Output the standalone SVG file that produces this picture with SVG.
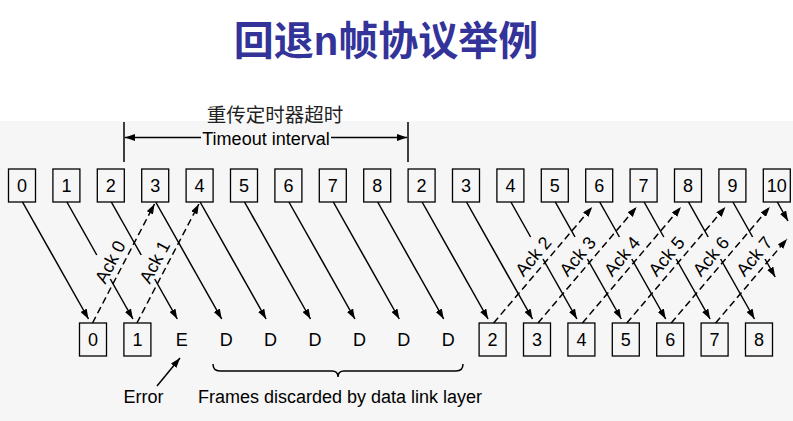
<svg xmlns="http://www.w3.org/2000/svg" width="793" height="421" viewBox="0 0 793 421">
<style>
.box{fill:none;stroke:#000;stroke-width:1.3}
.lbl{font-family:"Liberation Sans",Arial,sans-serif;font-size:18px;fill:#000;text-anchor:middle}
.ln{stroke:#000;stroke-width:1.5;fill:none}
.arr{marker-end:url(#ah)}
.dash{stroke:#000;stroke-width:1.5;fill:none;stroke-dasharray:7 4;marker-end:url(#ah)}
.title{font-family:"Liberation Sans","Noto Sans CJK SC",sans-serif;font-size:40px;font-weight:bold;fill:#333399;text-anchor:middle}
.cjk{font-family:"Noto Sans CJK SC",sans-serif;font-size:19.5px;fill:#222;text-anchor:middle}
</style>
<defs>
<marker id="ah" markerUnits="userSpaceOnUse" markerWidth="10" markerHeight="7" refX="10" refY="3.5" orient="auto">
<path d="M0,0 L10,3.5 L0,7 z" fill="#000"/>
</marker>
</defs>
<rect x="0" y="0" width="793" height="421" fill="#fff"/>
<rect x="0" y="121" width="793" height="300" fill="#f6f6f6"/>
<text id="title" class="title" x="386" y="55">回退n帧协议举例</text>

<g id="timeout">
<text class="cjk" x="275" y="121.5">重传定时器超时</text>
<line class="ln" x1="124" y1="122" x2="124" y2="162"/>
<line class="ln" x1="408" y1="122" x2="408" y2="162"/>
<line class="ln arr" x1="201" y1="137.5" x2="125" y2="137.5"/>
<line class="ln arr" x1="331" y1="137.5" x2="407" y2="137.5"/>
<text class="lbl" x="266" y="144.5">Timeout interval</text>
</g>

<g id="sender">
<g id="s0"><rect class="box" x="8.5" y="169" width="27" height="33"/><text class="lbl" x="22" y="192">0</text></g>
<g id="s1"><rect class="box" x="52.9" y="169" width="27" height="33"/><text class="lbl" x="66.4" y="192">1</text></g>
<g id="s2"><rect class="box" x="97.3" y="169" width="27" height="33"/><text class="lbl" x="110.8" y="192">2</text></g>
<g id="s3"><rect class="box" x="141.7" y="169" width="27" height="33"/><text class="lbl" x="155.2" y="192">3</text></g>
<g id="s4"><rect class="box" x="186.1" y="169" width="27" height="33"/><text class="lbl" x="199.6" y="192">4</text></g>
<g id="s5"><rect class="box" x="230.5" y="169" width="27" height="33"/><text class="lbl" x="244" y="192">5</text></g>
<g id="s6"><rect class="box" x="274.9" y="169" width="27" height="33"/><text class="lbl" x="288.4" y="192">6</text></g>
<g id="s7"><rect class="box" x="319.3" y="169" width="27" height="33"/><text class="lbl" x="332.8" y="192">7</text></g>
<g id="s8"><rect class="box" x="363.7" y="169" width="27" height="33"/><text class="lbl" x="377.2" y="192">8</text></g>
<g id="s9"><rect class="box" x="408.1" y="169" width="27" height="33"/><text class="lbl" x="421.6" y="192">2</text></g>
<g id="s10"><rect class="box" x="452.5" y="169" width="27" height="33"/><text class="lbl" x="466" y="192">3</text></g>
<g id="s11"><rect class="box" x="496.9" y="169" width="27" height="33"/><text class="lbl" x="510.4" y="192">4</text></g>
<g id="s12"><rect class="box" x="541.3" y="169" width="27" height="33"/><text class="lbl" x="554.8" y="192">5</text></g>
<g id="s13"><rect class="box" x="585.7" y="169" width="27" height="33"/><text class="lbl" x="599.2" y="192">6</text></g>
<g id="s14"><rect class="box" x="630.1" y="169" width="27" height="33"/><text class="lbl" x="643.6" y="192">7</text></g>
<g id="s15"><rect class="box" x="674.5" y="169" width="27" height="33"/><text class="lbl" x="688" y="192">8</text></g>
<g id="s16"><rect class="box" x="718.9" y="169" width="27" height="33"/><text class="lbl" x="732.4" y="192">9</text></g>
<g id="s17"><rect class="box" x="763.3" y="169" width="27" height="33"/><text class="lbl" x="776.8" y="192">10</text></g>
</g>

<g id="receiver">
<g id="r0"><rect class="box" x="79.5" y="323" width="27" height="33"/><text class="lbl" x="93" y="346">0</text></g>
<g id="r1"><rect class="box" x="123.9" y="323" width="27" height="33"/><text class="lbl" x="137.4" y="346">1</text></g>
<g id="r2"><text class="lbl" x="181.8" y="346">E</text></g>
<g id="r3"><text class="lbl" x="226.2" y="346">D</text></g>
<g id="r4"><text class="lbl" x="270.6" y="346">D</text></g>
<g id="r5"><text class="lbl" x="315" y="346">D</text></g>
<g id="r6"><text class="lbl" x="359.4" y="346">D</text></g>
<g id="r7"><text class="lbl" x="403.8" y="346">D</text></g>
<g id="r8"><text class="lbl" x="448.2" y="346">D</text></g>
<g id="r9"><rect class="box" x="479.1" y="323" width="27" height="33"/><text class="lbl" x="492.6" y="346">2</text></g>
<g id="r10"><rect class="box" x="523.5" y="323" width="27" height="33"/><text class="lbl" x="537" y="346">3</text></g>
<g id="r11"><rect class="box" x="567.9" y="323" width="27" height="33"/><text class="lbl" x="581.4" y="346">4</text></g>
<g id="r12"><rect class="box" x="612.3" y="323" width="27" height="33"/><text class="lbl" x="625.8" y="346">5</text></g>
<g id="r13"><rect class="box" x="656.7" y="323" width="27" height="33"/><text class="lbl" x="670.2" y="346">6</text></g>
<g id="r14"><rect class="box" x="701.1" y="323" width="27" height="33"/><text class="lbl" x="714.6" y="346">7</text></g>
<g id="r15"><rect class="box" x="745.5" y="323" width="27" height="33"/><text class="lbl" x="759" y="346">8</text></g>
</g>

<g id="connectors">
<line class="ln arr" x1="22.5" y1="202" x2="88.5" y2="319"/>
<line class="ln" x1="66.9" y1="202" x2="96.8" y2="255"/>
<line class="ln arr" x1="110.3" y1="279" x2="132.9" y2="319"/>
<line class="ln" x1="111.3" y1="202" x2="141.2" y2="255"/>
<line class="ln arr" x1="154.7" y1="279" x2="177.3" y2="319"/>
<line class="ln arr" x1="155.7" y1="202" x2="221.7" y2="319"/>
<line class="ln arr" x1="200.1" y1="202" x2="266.1" y2="319"/>
<line class="ln arr" x1="244.5" y1="202" x2="310.5" y2="319"/>
<line class="ln arr" x1="288.9" y1="202" x2="354.9" y2="319"/>
<line class="ln arr" x1="333.3" y1="202" x2="399.3" y2="319"/>
<line class="ln arr" x1="377.7" y1="202" x2="443.7" y2="319"/>
<line class="ln arr" x1="422.1" y1="202" x2="488.1" y2="319"/>
<line class="ln arr" x1="466.5" y1="202" x2="532.5" y2="319"/>
<line class="ln" x1="510.9" y1="202" x2="530.6" y2="237"/>
<line class="ln arr" x1="543" y1="259" x2="576.9" y2="319"/>
<line class="ln" x1="555.3" y1="202" x2="575" y2="237"/>
<line class="ln arr" x1="587.4" y1="259" x2="621.3" y2="319"/>
<line class="ln" x1="599.7" y1="202" x2="619.4" y2="237"/>
<line class="ln arr" x1="631.8" y1="259" x2="665.7" y2="319"/>
<line class="ln" x1="644.1" y1="202" x2="663.8" y2="237"/>
<line class="ln arr" x1="676.2" y1="259" x2="710.1" y2="319"/>
<line class="ln" x1="688.5" y1="202" x2="708.2" y2="237"/>
<line class="ln arr" x1="720.6" y1="259" x2="754.5" y2="319"/>
<line class="ln" x1="732.9" y1="202" x2="752.6" y2="237"/>
<line class="ln arr" x1="765" y1="259" x2="775.2" y2="277"/>
<line class="ln arr" x1="777.3" y1="202" x2="788" y2="221"/>

<line class="dash" x1="92.5" y1="323" x2="154.5" y2="204"/>
<line class="dash" x1="136.9" y1="323" x2="198.9" y2="204"/>
<line class="dash" x1="493.6" y1="323" x2="592.2" y2="207"/>
<line class="dash" x1="538" y1="323" x2="636.6" y2="207"/>
<line class="dash" x1="582.4" y1="323" x2="681" y2="207"/>
<line class="dash" x1="626.8" y1="323" x2="725.4" y2="207"/>
<line class="dash" x1="671.2" y1="323" x2="769.8" y2="207"/>
<line class="dash" x1="715.6" y1="323" x2="787" y2="239"/>

<text class="lbl" transform="translate(110 261.7) rotate(-62.4)" y="6.5">Ack 0</text>
<text class="lbl" transform="translate(154.4 261.7) rotate(-62.4)" y="6.5">Ack 1</text>
<text class="lbl" transform="translate(533 256) rotate(-49.8)" y="6.5">Ack 2</text>
<text class="lbl" transform="translate(577.4 256) rotate(-49.8)" y="6.5">Ack 3</text>
<text class="lbl" transform="translate(621.8 256) rotate(-49.8)" y="6.5">Ack 4</text>
<text class="lbl" transform="translate(666.2 256) rotate(-49.8)" y="6.5">Ack 5</text>
<text class="lbl" transform="translate(710.6 256) rotate(-49.8)" y="6.5">Ack 6</text>
<text class="lbl" transform="translate(754 256) rotate(-49.8)" y="6.5">Ack 7</text>

<line class="ln arr" x1="157" y1="386" x2="180" y2="358"/>
<path class="ln" d="M213,364 Q213,371 220,371 L332,371 Q338,371 338,377 Q338,371 344,371 L456,371 Q463,371 463,364"/>
</g>

<text id="error" class="lbl" x="143.5" y="403">Error</text>
<text id="discarded" class="lbl" x="340" y="403">Frames discarded by data link layer</text>
</svg>
